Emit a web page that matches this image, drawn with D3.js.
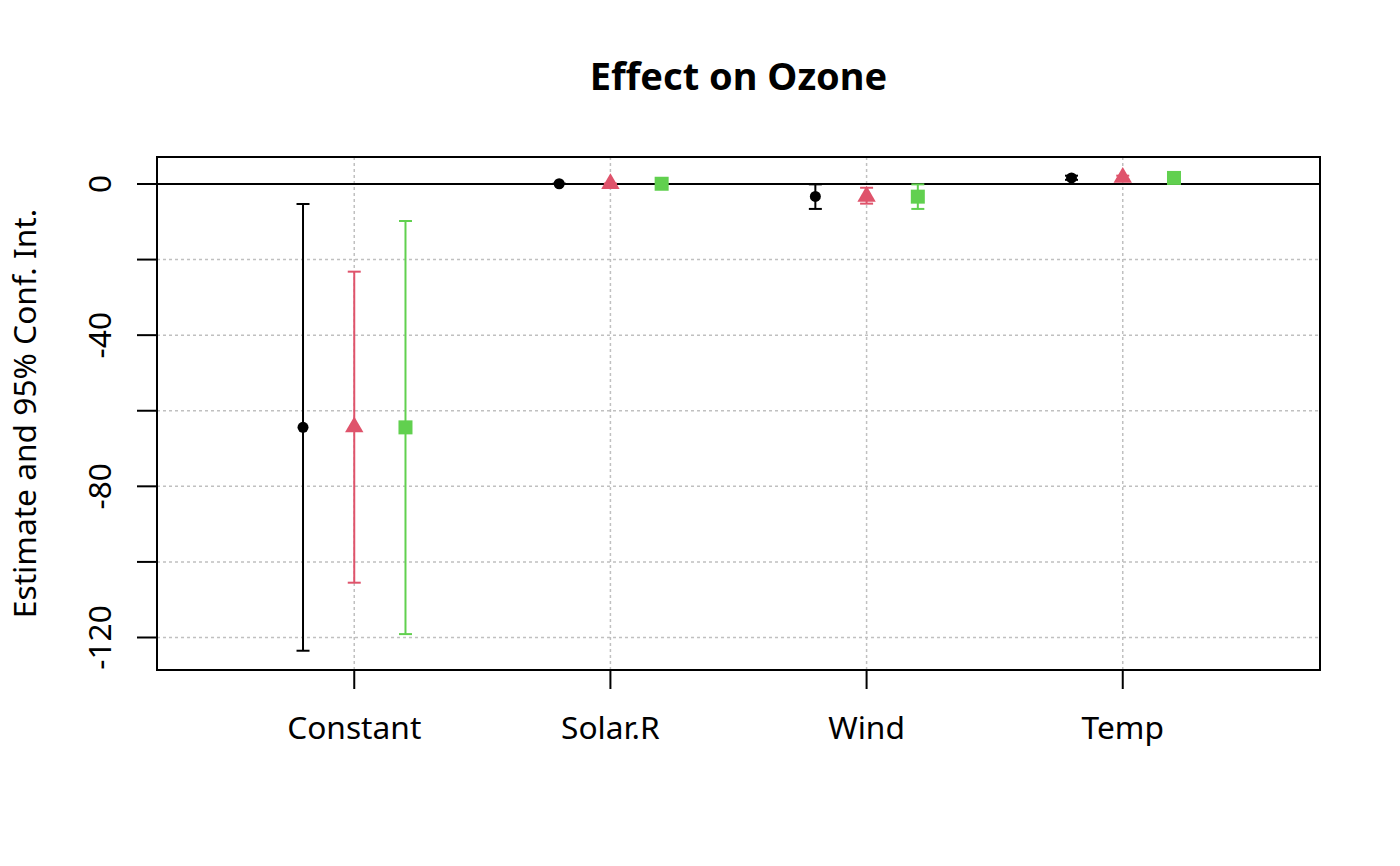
<!DOCTYPE html>
<html>
<head>
  <meta charset="utf-8">
  <script src="https://d3js.org/d3.v7.min.js"></script>
  <style>
    body { margin: 0; background: #fff; }
    svg text { font-family: "Noto Sans", "Open Sans", sans-serif; fill: #000; }
  </style>
</head>
<body>
  <svg width="1400" height="866"></svg>

  <script>
    // Terms on the x axis
    var terms = ["Constant", "Solar.R", "Wind", "Temp"];

    // Three models: estimates and lower / upper 95% limits, one value per term
    var est1 = [-64.4, 0.06, -3.3, 1.6];
    var lo1  = [-123.5, 0.01, -6.6, 1.1];
    var hi1  = [-5.3, 0.11, -0.1, 2.2];

    var est2 = [-64.3, 0.06, -3.3, 1.7];
    var lo2  = [-105.5, 0.01, -5.2, 1.2];
    var hi2  = [-23.2, 0.11, -1.0, 2.2];

    var est3 = [-64.4, 0.06, -3.35, 1.6];
    var lo3  = [-119.1, 0.0, -6.6, 1.0];
    var hi3  = [-9.8, 0.12, -0.1, 2.2];

    var yTicks = [0, -20, -40, -60, -80, -100, -120];
    var yLabels = [0, -40, -80, -120];

    var models = [
      { est: est1, lo: lo1, hi: hi1, color: "#000000", shape: "circle", offset: -0.2 },
      { est: est2, lo: lo2, hi: hi2, color: "#DF536B", shape: "triangle", offset: 0 },
      { est: est3, lo: lo3, hi: hi3, color: "#61D04F", shape: "square", offset: 0.2 }
    ];

    var svg = d3.select("svg");
    // plot region edges
    var pLeft = 157, pRight = 1320, pTop = 157, pBottom = 670;

    var x = d3.scaleLinear().domain([0.23, 4.77]).range([pLeft, pRight]);
    var y = d3.scaleLinear().domain([-128.6, 7.14]).range([pBottom, pTop]);

    // grid
    svg.selectAll(".hgrid")
      .data(yTicks.filter(d => d !== 0))
      .enter().append("line")
      .attr("x1", pLeft).attr("x2", pRight)
      .attr("y1", d => y(d)).attr("y2", d => y(d))
      .attr("stroke", "#c0c0c0").attr("stroke-width", 1.5)
      .attr("stroke-dasharray", "3,3");

    svg.selectAll(".vgrid")
      .data(terms)
      .enter().append("line")
      .attr("x1", (d, i) => x(i + 1)).attr("x2", (d, i) => x(i + 1))
      .attr("y1", pTop).attr("y2", pBottom)
      .attr("stroke", "#c0c0c0").attr("stroke-width", 1.5)
      .attr("stroke-dasharray", "3,3");

    // zero line
    svg.append("line")
      .attr("x1", pLeft).attr("x2", pRight)
      .attr("y1", y(0)).attr("y2", y(0))
      .attr("stroke", "#000").attr("stroke-width", 2);

    // error bars and points
    var cap = 6.5;
    models.forEach(function(m) {
      var g = svg.append("g")
        .attr("stroke", m.color)
        .attr("fill", m.color);

      terms.forEach(function(t, i) {
        var cx = x(i + 1 + m.offset);
        g.append("line")
          .attr("x1", cx).attr("x2", cx)
          .attr("y1", y(m.lo[i])).attr("y2", y(m.hi[i]))
          .attr("stroke-width", 2);
        [m.lo[i], m.hi[i]].forEach(function(v) {
          g.append("line")
            .attr("x1", cx - cap).attr("x2", cx + cap)
            .attr("y1", y(v)).attr("y2", y(v))
            .attr("stroke-width", 2);
        });

        var cy = y(m.est[i]);
        if (m.shape === "circle") {
          g.append("circle").attr("cx", cx).attr("cy", cy).attr("r", 5.5).attr("stroke", "none");
        } else if (m.shape === "triangle") {
          var hw = 9.2, h = 15.9;
          g.append("path")
            .attr("d", `M${cx},${cy - h * 2 / 3} L${cx + hw},${cy + h / 3} L${cx - hw},${cy + h / 3} Z`)
            .attr("stroke", "none");
        } else {
          g.append("rect").attr("x", cx - 7).attr("y", cy - 7)
            .attr("width", 14).attr("height", 14).attr("stroke", "none");
        }
      });
    });

    // box
    svg.append("rect")
      .attr("x", pLeft).attr("y", pTop)
      .attr("width", pRight - pLeft).attr("height", pBottom - pTop)
      .attr("fill", "none").attr("stroke", "#000").attr("stroke-width", 2);

    // y axis
    svg.selectAll(".ytick")
      .data(yTicks)
      .enter().append("line")
      .attr("x1", pLeft - 20).attr("x2", pLeft)
      .attr("y1", d => y(d)).attr("y2", d => y(d))
      .attr("stroke", "#000").attr("stroke-width", 2);

    svg.selectAll(".ylab")
      .data(yLabels)
      .enter().append("text")
      .attr("transform", d => `translate(111,${y(d)}) rotate(-90)`)
      .attr("text-anchor", "middle")
      .style("font-size", "31.7px")
      .text(d => d);

    // x axis
    svg.selectAll(".xtick")
      .data(terms)
      .enter().append("line")
      .attr("x1", (d, i) => x(i + 1)).attr("x2", (d, i) => x(i + 1))
      .attr("y1", pBottom).attr("y2", pBottom + 19)
      .attr("stroke", "#000").attr("stroke-width", 2);

    svg.selectAll(".xlab")
      .data(terms)
      .enter().append("text")
      .attr("x", (d, i) => x(i + 1))
      .attr("y", 739)
      .attr("text-anchor", "middle")
      .style("font-size", "31.7px")
      .text(d => d);

    // axis title
    svg.append("text")
      .attr("transform", `translate(36,${(pTop + pBottom) / 2}) rotate(-90)`)
      .attr("text-anchor", "middle")
      .style("font-size", "31.7px")
      .text("Estimate and 95% Conf. Int.");

    // title
    svg.append("text")
      .attr("x", (pLeft + pRight) / 2)
      .attr("y", 90)
      .attr("text-anchor", "middle")
      .style("font-size", "38px")
      .style("font-weight", "bold")
      .text("Effect on Ozone");
  </script>
</body>
</html>
